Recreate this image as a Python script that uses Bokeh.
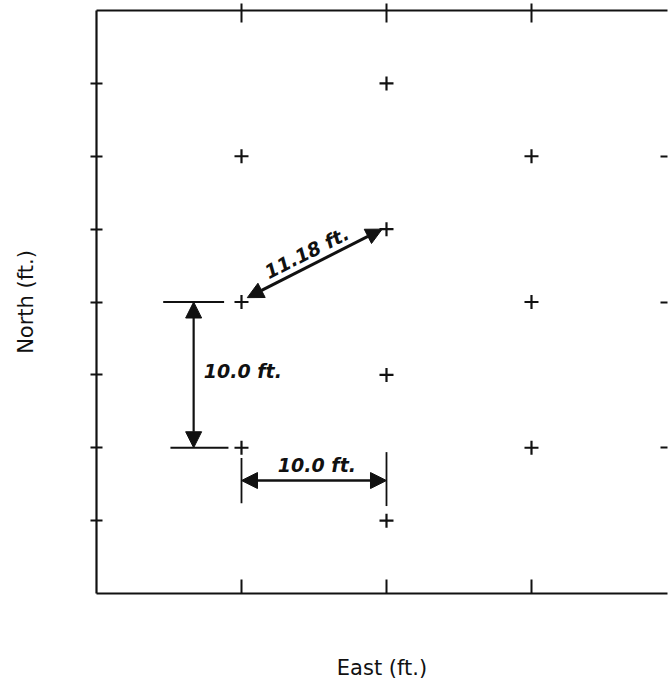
from bokeh.plotting import figure
from bokeh.models import (Range1d, LinearAxis, FixedTicker, Arrow, NormalHead, Label,
                          CustomLabelingPolicy)
from bokeh.embed import file_html
from bokeh.resources import INLINE

# Sampling grid points (ft)
east = [20, 10, 30, 20, 10, 30, 20, 10, 30, 20]
north = [35, 30, 30, 25, 20, 20, 15, 10, 10, 5]

# Tick values (ft)
north_ticks = [5, 10, 15, 20, 25, 30, 35]
east_ticks = [10, 20, 30]
right_ticks = [10, 20, 30]

# Dimension annotations
diag_label = "11.18 ft."
north_label = "10.0 ft."
east_label = "10.0 ft."

# extension lines of the north dimension (horizontal bars)
nbar_x0 = [4.6, 5.1]
nbar_x1 = [8.8, 9.1]
nbar_y = [20, 10]
# extension lines of the east dimension (vertical bars)
ebar_x = [10, 20]
ebar_y0 = [6.2, 6.0]
ebar_y1 = [9.3, 9.7]

p = figure(width=668, height=684, output_backend="svg", toolbar_location=None,
           x_range=Range1d(0, 39.38), y_range=Range1d(0, 40),
           min_border_left=96, min_border_right=1, min_border_top=10, min_border_bottom=91)
p.grid.visible = False
p.outline_line_color = None
p.background_fill_color = "white"
p.border_fill_color = "white"

INK = "#111111"

def no_labels():
    return CustomLabelingPolicy(code="for (const i of indices) { indices.unset(i) } return indices")

def style_axis(ax, ticks, tin, tout, line=True):
    ax.ticker = FixedTicker(ticks=ticks)
    ax.major_tick_in = tin
    ax.major_tick_out = tout
    ax.major_tick_line_width = 2
    ax.major_tick_line_color = INK
    ax.minor_tick_line_color = None
    ax.major_label_policy = no_labels()
    ax.major_label_text_font_size = "0px"
    ax.major_label_standoff = 0
    ax.axis_line_width = 2.2
    ax.axis_line_color = INK if line else None

left = p.left[0]
bottom = p.below[0]
style_axis(left, north_ticks, 6, 6)
style_axis(bottom, east_ticks, 14, 0)
left.axis_label = "North (ft.)"
bottom.axis_label = "East (ft.)"
for ax, so in ((left, 53), (bottom, 62)):
    ax.axis_label_text_font = "DejaVu Sans"
    ax.axis_label_text_font_size = "21px"
    ax.axis_label_text_font_style = "normal"
    ax.axis_label_text_color = INK
    ax.axis_label_standoff = so

top = LinearAxis()
style_axis(top, east_ticks, 12, 7)
p.add_layout(top, "above")
right = LinearAxis()
style_axis(right, right_ticks, 7, 0, line=False)
p.add_layout(right, "right")

# grid point markers
p.scatter(east, north, marker="cross", size=14, line_width=2.2, color=INK)

# extension lines
p.segment(x0=nbar_x0, x1=nbar_x1, y0=nbar_y, y1=nbar_y, line_width=1.8, color=INK)
p.segment(x0=ebar_x, x1=ebar_x, y0=ebar_y0, y1=ebar_y1, line_width=1.8, color=INK)

def head():
    return NormalHead(size=16, fill_color=INK, line_color=INK, line_width=1)

p.add_layout(Arrow(start=head(), end=head(), x_start=10.4, y_start=20.3,
                   x_end=19.7, y_end=25.0, line_width=3, line_color=INK))
p.add_layout(Arrow(start=head(), end=head(), x_start=6.7, y_start=20,
                   x_end=6.7, y_end=10, line_width=2.2, line_color=INK))
p.add_layout(Arrow(start=head(), end=head(), x_start=10, y_start=7.75,
                   x_end=20, y_end=7.75, line_width=2.4, line_color=INK))

lab_kw = dict(text_font="DejaVu Sans", text_font_size="19px", text_font_style="bold italic",
              text_color=INK, text_baseline="middle")
p.add_layout(Label(x=14.5, y=23.4, text=diag_label, angle=26.7, angle_units="deg",
                   text_align="center", **lab_kw))
p.add_layout(Label(x=7.4, y=15.3, text=north_label, text_align="left", **lab_kw))
p.add_layout(Label(x=15.2, y=8.8, text=east_label, text_align="center", **lab_kw))

open("out.html", "w").write(file_html(p, INLINE))
